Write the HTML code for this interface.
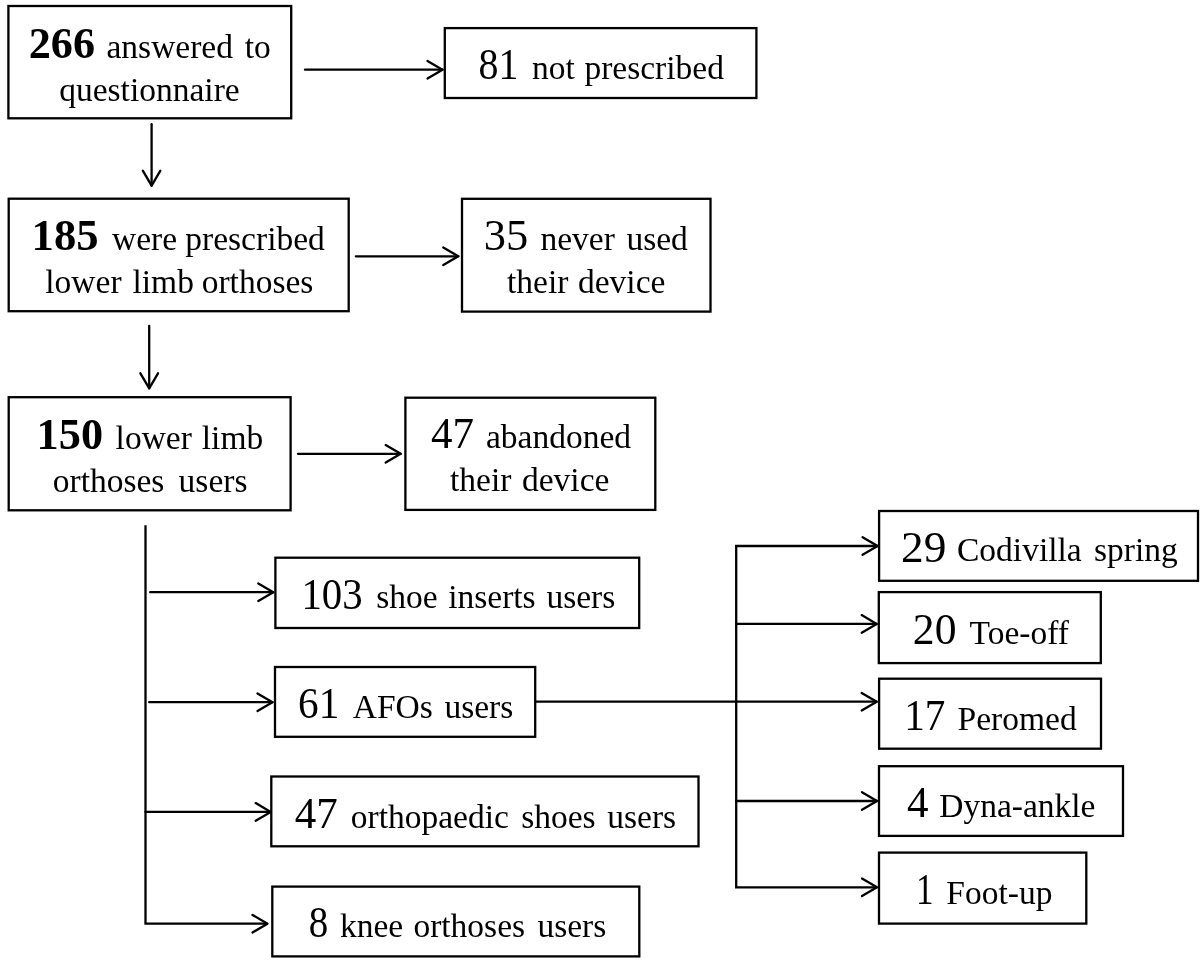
<!DOCTYPE html><html><head><meta charset="utf-8"><style>html,body{margin:0;padding:0;background:#fff;width:1200px;height:964px;overflow:hidden}svg{position:absolute;left:0;top:0;will-change:transform}text{font-family:"Liberation Serif",serif;fill:#000}</style></head><body>
<svg width="1200" height="964" viewBox="0 0 1200 964">
<g fill="none" stroke="#000" stroke-width="2.3">
<rect x="8.4" y="6" width="282.8" height="112.3"/>
<rect x="444.8" y="28.1" width="311.6" height="69.9"/>
<rect x="8.7" y="198.7" width="340.0" height="112.5"/>
<rect x="462" y="198.8" width="248.5" height="112.8"/>
<rect x="8.7" y="397.2" width="281.9" height="113.1"/>
<rect x="405.4" y="397.7" width="249.9" height="112.2"/>
<rect x="275.4" y="557.7" width="363.8" height="70.3"/>
<rect x="275" y="667" width="260.2" height="69.8"/>
<rect x="271.3" y="776.5" width="427.2" height="69.8"/>
<rect x="272.3" y="886.6" width="367.0" height="69.8"/>
<rect x="879.1" y="511" width="318.9" height="69.8"/>
<rect x="878.8" y="592.1" width="222.0" height="71.0"/>
<rect x="879.1" y="678.7" width="221.9" height="70.0"/>
<rect x="879" y="766.2" width="244" height="69.7"/>
<rect x="879" y="852.6" width="207.3" height="71.0"/>
</g>
<g fill="none" stroke="#000" stroke-width="2.3" stroke-linecap="round" stroke-linejoin="round">
<path d="M145.5,525.3 V923.7 H267.5" stroke-linecap="butt" stroke-linejoin="miter"/>
<path d="M877.6,546 H736.2 V887.3 H877" stroke-linecap="butt" stroke-linejoin="miter"/>
<line x1="305" y1="69.7" x2="442.5" y2="69.7"/>
<polyline points="427.5,60.900000000000006 442.5,69.7 427.5,78.5"/>
<line x1="151.6" y1="124.2" x2="151.6" y2="185.7"/>
<polyline points="142.79999999999998,170.7 151.6,185.7 160.4,170.7"/>
<line x1="355.8" y1="256.3" x2="458.3" y2="256.3"/>
<polyline points="443.3,247.5 458.3,256.3 443.3,265.1"/>
<line x1="149.2" y1="325.8" x2="149.2" y2="388.3"/>
<polyline points="140.39999999999998,373.3 149.2,388.3 158.0,373.3"/>
<line x1="298" y1="453.8" x2="400.7" y2="453.8"/>
<polyline points="385.7,445.0 400.7,453.8 385.7,462.6"/>
<line x1="150.2" y1="592.2" x2="273.3" y2="592.2"/>
<polyline points="258.3,583.4000000000001 273.3,592.2 258.3,601.0"/>
<line x1="149.2" y1="702.2" x2="272.5" y2="702.2"/>
<polyline points="257.5,693.4000000000001 272.5,702.2 257.5,711.0"/>
<line x1="145.5" y1="811.9" x2="270.7" y2="811.9"/>
<polyline points="255.7,803.1 270.7,811.9 255.7,820.6999999999999"/>
<polyline points="252.5,914.9000000000001 267.5,923.7 252.5,932.5"/>
<line x1="536" y1="701.7" x2="876.7" y2="701.7"/>
<polyline points="861.7,692.9000000000001 876.7,701.7 861.7,710.5"/>
<polyline points="862.6,537.2 877.6,546 862.6,554.8"/>
<line x1="736.2" y1="623.9" x2="876.7" y2="623.9"/>
<polyline points="861.7,615.1 876.7,623.9 861.7,632.6999999999999"/>
<line x1="736.2" y1="801.0" x2="877" y2="801.0"/>
<polyline points="862,792.2 877,801.0 862,809.8"/>
<polyline points="862,878.5 877,887.3 862,896.0999999999999"/>
</g>
<text transform="translate(29.7,58.0) scale(0.9938,1)" x="-1" y="0" font-size="44.5" font-weight="bold">266</text>
<text transform="translate(479.3,78.6) scale(0.8976,1)" x="-1" y="0" font-size="44.5">81</text>
<text transform="translate(34.6,250.3) scale(1.0032,1)" x="-3" y="0" font-size="44.5" font-weight="bold">185</text>
<text transform="translate(485.7,250.3) scale(1.0,1)" x="-2" y="0" font-size="44.5">35</text>
<text transform="translate(39.6,449.0) scale(0.9952,1)" x="-3" y="0" font-size="44.5" font-weight="bold">150</text>
<text transform="translate(431,448.2) scale(0.9659,1)" x="0" y="0" font-size="44.5">47</text>
<text transform="translate(304.2,608.5) scale(0.9175,1)" x="-3" y="0" font-size="44.5">103</text>
<text transform="translate(299,718.2) scale(0.9268,1)" x="-1" y="0" font-size="44.5">61</text>
<text transform="translate(294.7,828.0) scale(0.9659,1)" x="0" y="0" font-size="44.5">47</text>
<text transform="translate(309.6,937.4) scale(0.875,1)" x="-1" y="0" font-size="44.5">8</text>
<text transform="translate(902.1,561.6) scale(1.019,1)" x="-1" y="0" font-size="44.5">29</text>
<text transform="translate(913.8,644.2) scale(0.9814,1)" x="-1" y="0" font-size="44.5">20</text>
<text transform="translate(906.9,729.8) scale(0.9244,1)" x="-3" y="0" font-size="44.5">17</text>
<text transform="translate(907,816.6) scale(0.9682,1)" x="0" y="0" font-size="44.5">4</text>
<text transform="translate(918.4,903.9) scale(0.7882,1)" x="-3" y="0" font-size="44.5">1</text>
<text x="106.5" y="57.6" font-size="33.5">answered</text>
<text x="244.7" y="57.6" font-size="33.5">to</text>
<text x="59.2" y="100.6" font-size="33.5">questionnaire</text>
<text x="532.1" y="78.6" font-size="33.5">not</text>
<text x="584.4" y="78.6" font-size="33.5">prescribed</text>
<text x="112" y="250.3" font-size="33.5">were</text>
<text x="185.3" y="250.3" font-size="33.5">prescribed</text>
<text x="45.3" y="293" font-size="33.5">lower</text>
<text x="132.5" y="293" font-size="33.5">limb</text>
<text x="201.7" y="293" font-size="33.5">orthoses</text>
<text x="540.4" y="250.2" font-size="33.5">never</text>
<text x="626.4" y="250.2" font-size="33.5">used</text>
<text x="507" y="292.6" font-size="33.5">their</text>
<text x="578" y="292.6" font-size="33.5">device</text>
<text x="115.6" y="449" font-size="33.5">lower</text>
<text x="201.8" y="449" font-size="33.5">limb</text>
<text x="52.75" y="492.4" font-size="33.5">orthoses</text>
<text x="178.6" y="492.4" font-size="33.5">users</text>
<text x="486" y="448.2" font-size="33.5">abandoned</text>
<text x="450" y="491.3" font-size="33.5">their</text>
<text x="522" y="491.3" font-size="33.5">device</text>
<text x="376.3" y="608.3" font-size="33.5">shoe</text>
<text x="448.2" y="608.3" font-size="33.5">inserts</text>
<text x="546.4" y="608.3" font-size="33.5">users</text>
<text x="352.7" y="718.2" font-size="33.5">AFOs</text>
<text x="444.4" y="718.2" font-size="33.5">users</text>
<text x="350.75" y="828.1" font-size="33.5">orthopaedic</text>
<text x="521.2" y="828.1" font-size="33.5">shoes</text>
<text x="607.3" y="828.1" font-size="33.5">users</text>
<text x="340" y="936.7" font-size="33.5">knee</text>
<text x="413.4" y="936.7" font-size="33.5">orthoses</text>
<text x="537.4" y="936.7" font-size="33.5">users</text>
<text x="957" y="561.4" font-size="33.5">Codivilla</text>
<text x="1094" y="561.4" font-size="33.5">spring</text>
<text x="969.6" y="644.2" font-size="33.5">Toe-off</text>
<text x="957.6" y="729.6" font-size="33.5">Peromed</text>
<text x="939.2" y="816.6" font-size="33.5">Dyna-ankle</text>
<text x="946.3" y="904.2" font-size="33.5">Foot-up</text>
</svg></body></html>
